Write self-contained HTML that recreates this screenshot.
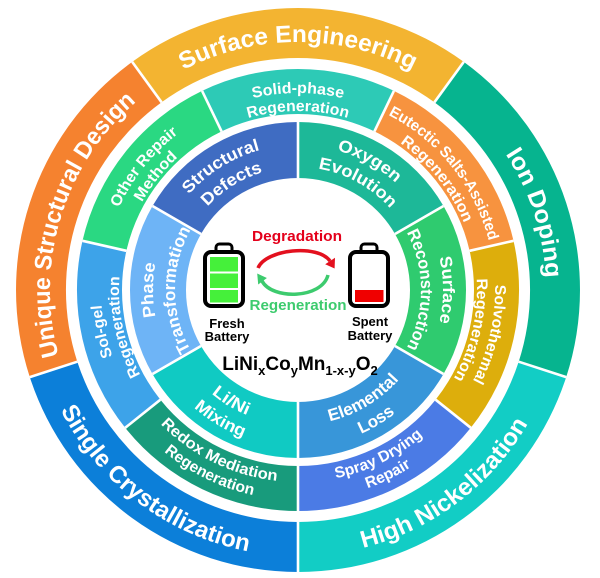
<!DOCTYPE html>
<html>
<head>
<meta charset="utf-8">
<style>
html,body{margin:0;padding:0;background:#fff;width:600px;height:578px;overflow:hidden;}
svg{display:block;overflow:hidden;}
text{font-family:"Liberation Sans",Arial,sans-serif;font-weight:bold;}
</style>
</head>
<body>
<svg width="600" height="578" viewBox="0 0 600 578" xmlns="http://www.w3.org/2000/svg">
<defs>
  <path id="cw248" d="M 298 538 A 248 248 0 1 1 298 42 A 248 248 0 1 1 298 538"/>
  <path id="cw197" d="M 298 487 A 197 197 0 1 1 298 93 A 197 197 0 1 1 298 487"/>
  <path id="cw179" d="M 298 469 A 179 179 0 1 1 298 111 A 179 179 0 1 1 298 469"/>
  <path id="cw145" d="M 298 435 A 145 145 0 1 1 298 145 A 145 145 0 1 1 298 435"/>
  <path id="cw123" d="M 298 413 A 123 123 0 1 1 298 167 A 123 123 0 1 1 298 413"/>
  <path id="ccw192" d="M 298 98 A 192 192 0 1 0 298 482 A 192 192 0 1 0 298 98"/>
  <path id="ccw210" d="M 298 80 A 210 210 0 1 0 298 500 A 210 210 0 1 0 298 80"/>
  <path id="ccw135" d="M 298 155 A 135 135 0 1 0 298 425 A 135 135 0 1 0 298 155"/>
  <path id="ccw157" d="M 298 133 A 157 157 0 1 0 298 447 A 157 157 0 1 0 298 133"/>
  <path id="hnArc" d="M 238.2 549.2 A 266 266 0 0 0 563.6 303.9"/>
  <path id="scArc" d="M 32.4 303.9 A 266 266 0 0 0 357.8 549.2"/>
</defs>

<!-- Outer ring -->
<path fill="#F3B431" d="M 132.2 61.9 A 282 282 0 0 1 463.8 61.9 L 434.4 102.3 A 232 232 0 0 0 161.6 102.3 Z"/>
<path fill="#06B48F" d="M 463.8 61.9 A 282 282 0 0 1 566.2 377.1 L 518.7 361.7 A 232 232 0 0 0 434.4 102.3 Z"/>
<path fill="#12CDC5" d="M 566.2 377.1 A 282 282 0 0 1 298 572 L 298 522 A 232 232 0 0 0 518.7 361.7 Z"/>
<path fill="#0C7FD9" d="M 298 572 A 282 282 0 0 1 29.8 377.1 L 77.3 361.7 A 232 232 0 0 0 298 522 Z"/>
<path fill="#F5822F" d="M 29.8 377.1 A 282 282 0 0 1 132.2 61.9 L 161.6 102.3 A 232 232 0 0 0 77.3 361.7 Z"/>

<!-- Middle ring -->
<path fill="#2DCAB6" d="M 202.1 90.9 A 221 221 0 0 1 393.9 90.9 L 374.4 131.4 A 176 176 0 0 0 221.6 131.4 Z"/>
<path fill="#F7933F" d="M 393.9 90.9 A 221 221 0 0 1 513.5 240.8 L 469.6 250.8 A 176 176 0 0 0 374.4 131.4 Z"/>
<path fill="#DDAE0C" d="M 513.5 240.8 A 221 221 0 0 1 470.8 427.8 L 435.6 399.7 A 176 176 0 0 0 469.6 250.8 Z"/>
<path fill="#4B7BE5" d="M 470.8 427.8 A 221 221 0 0 1 298 511 L 298 466 A 176 176 0 0 0 435.6 399.7 Z"/>
<path fill="#189B7C" d="M 298 511 A 221 221 0 0 1 125.2 427.8 L 160.4 399.7 A 176 176 0 0 0 298 466 Z"/>
<path fill="#3DA3E9" d="M 125.2 427.8 A 221 221 0 0 1 82.5 240.8 L 126.4 250.8 A 176 176 0 0 0 160.4 399.7 Z"/>
<path fill="#2AD882" d="M 82.5 240.8 A 221 221 0 0 1 202.1 90.9 L 221.6 131.4 A 176 176 0 0 0 126.4 250.8 Z"/>

<!-- Inner ring -->
<path fill="#1DB898" d="M 298 122 A 168 168 0 0 1 443.5 206 L 395 234 A 112 112 0 0 0 298 178 Z"/>
<path fill="#2FCB6F" d="M 443.5 206 A 168 168 0 0 1 443.5 374 L 395 346 A 112 112 0 0 0 395 234 Z"/>
<path fill="#3896D9" d="M 443.5 374 A 168 168 0 0 1 298 458 L 298 402 A 112 112 0 0 0 395 346 Z"/>
<path fill="#10CAC3" d="M 298 458 A 168 168 0 0 1 152.5 374 L 201 346 A 112 112 0 0 0 298 402 Z"/>
<path fill="#6EB4F6" d="M 152.5 374 A 168 168 0 0 1 152.5 206 L 201 234 A 112 112 0 0 0 201 346 Z"/>
<path fill="#3F6CC2" d="M 152.5 206 A 168 168 0 0 1 298 122 L 298 178 A 112 112 0 0 0 201 234 Z"/>

<!-- Separators -->
<g stroke="#fff" stroke-width="2.6">
  <line x1="434.4" y1="102.3" x2="463.8" y2="61.9"/>
  <line x1="518.7" y1="361.7" x2="566.2" y2="377.1"/>
  <line x1="298" y1="522" x2="298" y2="572"/>
  <line x1="77.3" y1="361.7" x2="29.8" y2="377.1"/>
  <line x1="161.6" y1="102.3" x2="132.2" y2="61.9"/>

  <line x1="374.4" y1="131.4" x2="393.9" y2="90.9"/>
  <line x1="469.6" y1="250.8" x2="513.5" y2="240.8"/>
  <line x1="435.6" y1="399.7" x2="470.8" y2="427.8"/>
  <line x1="298" y1="466" x2="298" y2="511"/>
  <line x1="160.4" y1="399.7" x2="125.2" y2="427.8"/>
  <line x1="126.4" y1="250.8" x2="82.5" y2="240.8"/>
  <line x1="221.6" y1="131.4" x2="202.1" y2="90.9"/>

  <line x1="298" y1="178" x2="298" y2="122"/>
  <line x1="395" y1="234" x2="443.5" y2="206"/>
  <line x1="395" y1="346" x2="443.5" y2="374"/>
  <line x1="298" y1="402" x2="298" y2="458"/>
  <line x1="201" y1="346" x2="152.5" y2="374"/>
  <line x1="201" y1="234" x2="152.5" y2="206"/>
</g>

<!-- Outer ring labels -->
<g fill="#fff" font-size="24" text-anchor="middle">
  <text><textPath href="#cw248" startOffset="50%" textLength="238" lengthAdjust="spacingAndGlyphs">Surface Engineering</textPath></text>
  <g transform="rotate(72 298 290)"><text><textPath href="#cw248" startOffset="50%" textLength="132" lengthAdjust="spacingAndGlyphs">Ion Doping</textPath></text></g>
  <text><textPath href="#hnArc" startOffset="50%" textLength="212" lengthAdjust="spacingAndGlyphs">High Nickelization</textPath></text>
  <text><textPath href="#scArc" startOffset="50%" textLength="243" lengthAdjust="spacingAndGlyphs">Single Crystallization</textPath></text>
  <g transform="rotate(287 298 290)"><text><textPath href="#cw248" startOffset="50%" textLength="280" lengthAdjust="spacingAndGlyphs">Unique Structural Design</textPath></text></g>
</g>

<!-- Middle ring labels -->
<g fill="#fff" font-size="15.5" text-anchor="middle">
  <g>
    <text><textPath href="#cw197" startOffset="50%" textLength="91" lengthAdjust="spacingAndGlyphs">Solid-phase</textPath></text>
    <text><textPath href="#cw179" startOffset="50%" textLength="101" lengthAdjust="spacingAndGlyphs">Regeneration</textPath></text>
  </g>
  <g transform="rotate(51.4 298 290)">
    <text><textPath href="#cw197" startOffset="50%" textLength="166" lengthAdjust="spacingAndGlyphs">Eutectic Salts-Assisted</textPath></text>
    <text><textPath href="#cw179" startOffset="50%" textLength="104" lengthAdjust="spacingAndGlyphs">Regeneration</textPath></text>
  </g>
  <g transform="rotate(103 298 290)">
    <text><textPath href="#cw197" startOffset="50%" textLength="100" lengthAdjust="spacingAndGlyphs">Solvothermal</textPath></text>
    <text><textPath href="#cw179" startOffset="50%" textLength="104" lengthAdjust="spacingAndGlyphs">Regeneration</textPath></text>
  </g>
  <g transform="rotate(-26 298 290)">
    <text><textPath href="#ccw192" startOffset="50%" textLength="98" lengthAdjust="spacingAndGlyphs">Spray Drying</textPath></text>
    <text><textPath href="#ccw210" startOffset="50%" textLength="49" lengthAdjust="spacingAndGlyphs">Repair</textPath></text>
  </g>
  <g transform="rotate(26 298 290)">
    <text><textPath href="#ccw192" startOffset="50%" textLength="132" lengthAdjust="spacingAndGlyphs">Redox Mediation</textPath></text>
    <text><textPath href="#ccw210" startOffset="50%" textLength="100" lengthAdjust="spacingAndGlyphs">Regeneration</textPath></text>
  </g>
  <g transform="rotate(258 298 290)">
    <text><textPath href="#cw197" startOffset="50%" textLength="53" lengthAdjust="spacingAndGlyphs">Sol-gel</textPath></text>
    <text><textPath href="#cw179" startOffset="50%" textLength="102" lengthAdjust="spacingAndGlyphs">Regeneration</textPath></text>
  </g>
  <g transform="rotate(308.6 298 290)">
    <text><textPath href="#cw197" startOffset="50%" textLength="96" lengthAdjust="spacingAndGlyphs">Other Repair</textPath></text>
    <text><textPath href="#cw179" startOffset="50%" textLength="58" lengthAdjust="spacingAndGlyphs">Method</textPath></text>
  </g>
</g>

<!-- Inner ring labels -->
<g fill="#fff" font-size="17" text-anchor="middle">
  <g transform="rotate(328 298 290)">
    <text><textPath href="#cw145" startOffset="50%" textLength="85" lengthAdjust="spacingAndGlyphs">Structural</textPath></text>
    <text><textPath href="#cw123" startOffset="50%" textLength="66" lengthAdjust="spacingAndGlyphs">Defects</textPath></text>
  </g>
  <g transform="rotate(29 298 290)">
    <text><textPath href="#cw145" startOffset="50%" textLength="68" lengthAdjust="spacingAndGlyphs">Oxygen</textPath></text>
    <text><textPath href="#cw123" startOffset="50%" textLength="84" lengthAdjust="spacingAndGlyphs">Evolution</textPath></text>
  </g>
  <g transform="rotate(90 298 290)">
    <text><textPath href="#cw145" startOffset="50%" textLength="66" lengthAdjust="spacingAndGlyphs">Surface</textPath></text>
    <text><textPath href="#cw123" startOffset="50%" textLength="120" lengthAdjust="spacingAndGlyphs">Reconstruction</textPath></text>
  </g>
  <g transform="rotate(-31 298 290)">
    <text><textPath href="#ccw135" startOffset="50%" textLength="82" lengthAdjust="spacingAndGlyphs">Elemental</textPath></text>
    <text><textPath href="#ccw157" startOffset="50%" textLength="40" lengthAdjust="spacingAndGlyphs">Loss</textPath></text>
  </g>
  <g transform="rotate(31 298 290)">
    <text><textPath href="#ccw135" startOffset="50%" textLength="42" lengthAdjust="spacingAndGlyphs">Li/Ni</textPath></text>
    <text><textPath href="#ccw157" startOffset="50%" textLength="58" lengthAdjust="spacingAndGlyphs">Mixing</textPath></text>
  </g>
  <g transform="rotate(270 298 290)">
    <text><textPath href="#cw145" startOffset="50%" textLength="54" lengthAdjust="spacingAndGlyphs">Phase</textPath></text>
    <text><textPath href="#cw123" startOffset="50%" textLength="126" lengthAdjust="spacingAndGlyphs">Transformation</textPath></text>
  </g>
</g>

<!-- Center content -->
<rect x="216" y="244" width="16" height="10" rx="3.5" fill="#fff" stroke="#000" stroke-width="3"/>
<rect x="205" y="252" width="38" height="54" rx="6" fill="#fff" stroke="#000" stroke-width="4"/>
<rect x="210" y="257" width="28" height="14.5" fill="#45F03A"/>
<rect x="210" y="273.5" width="28" height="14.5" fill="#45F03A"/>
<rect x="210" y="290" width="28" height="12.5" fill="#45F03A"/>

<rect x="361" y="244" width="16" height="10" rx="3.5" fill="#fff" stroke="#000" stroke-width="3"/>
<rect x="350" y="252" width="38" height="54" rx="6" fill="#fff" stroke="#000" stroke-width="4"/>
<rect x="355" y="290" width="28.5" height="12" fill="#F00000"/>

<path d="M 258 268 C 266 249 318 244 330 261" fill="none" stroke="#E3101E" stroke-width="3.5"/>
<polygon points="334.6,268.5 335,257.8 325.2,264.2" fill="#E3101E"/>
<path d="M 328 275 C 322 299 272 300 262 281" fill="none" stroke="#3DCB6E" stroke-width="3.5"/>
<polygon points="257.2,273.5 266.9,278 258.2,284.5" fill="#3DCB6E"/>

<text x="297" y="241" text-anchor="middle" font-size="15" fill="#E4001B" textLength="90" lengthAdjust="spacingAndGlyphs">Degradation</text>
<text x="298" y="310" text-anchor="middle" font-size="15" fill="#3DCB6E" textLength="97" lengthAdjust="spacingAndGlyphs">Regeneration</text>

<text x="227" y="328" text-anchor="middle" font-size="13" fill="#000">Fresh</text>
<text x="227" y="341" text-anchor="middle" font-size="13" fill="#000">Battery</text>
<text x="370" y="326" text-anchor="middle" font-size="13" fill="#000">Spent</text>
<text x="370" y="340" text-anchor="middle" font-size="13" fill="#000">Battery</text>

<text x="300" y="370" text-anchor="middle" font-size="19" fill="#000">LiNi<tspan font-size="13" dy="5">x</tspan><tspan dy="-5">Co</tspan><tspan font-size="13" dy="5">y</tspan><tspan dy="-5">Mn</tspan><tspan font-size="13" dy="5">1-x-y</tspan><tspan dy="-5">O</tspan><tspan font-size="13" dy="5">2</tspan></text>
</svg>
</body>
</html>
